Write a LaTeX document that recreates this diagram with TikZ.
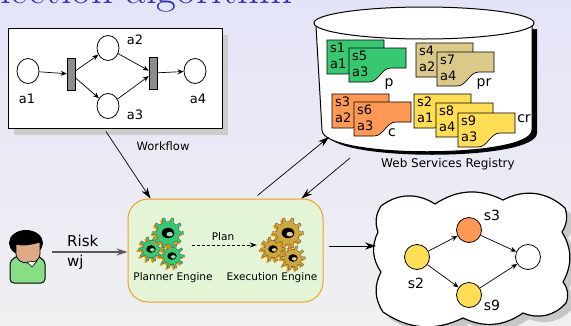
\documentclass[tikz,border=0pt]{standalone}
\usepackage{fontspec}
\newfontfamily\dejavu{DejaVu Sans}
\usetikzlibrary{arrows.meta,shapes.geometric,shadows,calc}

\definecolor{titleblue}{RGB}{51,51,178}
\definecolor{bgtop}{RGB}{228,228,248}
\definecolor{bgbottom}{RGB}{240,240,242}
\definecolor{docgreen}{RGB}{55,200,113}
\definecolor{doctan}{RGB}{219,201,138}
\definecolor{docorange}{RGB}{255,153,85}
\definecolor{docyellow}{RGB}{255,221,85}
\definecolor{enginefill}{RGB}{227,244,215}
\definecolor{engineedge}{RGB}{240,160,40}
\definecolor{gearshade}{RGB}{235,150,20}
\definecolor{geargold}{RGB}{205,168,60}
\definecolor{skin}{RGB}{222,170,135}
\definecolor{shirt}{RGB}{135,222,135}

\tikzset{
  place/.style={draw, ellipse, minimum width=22pt, minimum height=25pt, inner sep=0pt, line width=0.8pt, fill=white},
  trans/.style={draw, rectangle, fill=black!45, minimum width=8pt, minimum height=32pt, inner sep=0pt, line width=0.6pt},
  flow/.style={-{Stealth[length=6pt,width=5pt]}, line width=0.7pt},
  link/.style={-{Stealth[length=11pt,width=7pt]}, line width=0.7pt},
  svc/.style={draw, circle, minimum size=25pt, inner sep=0pt, line width=0.8pt},
  lbl/.style={font=\dejavu\fontsize{13}{15}\selectfont, inner sep=0pt},
  pics/gear/.style 2 args={code={
    \begin{scope}[shift={(-1.8,1.8)}]
      \fill[gearshade] (-8:#1) \foreach \t in {0,36,...,324}{ -- (\t-8:#1) -- (\t-5:#1+4) -- (\t+5:#1+4) -- (\t+8:#1) -- (\t+28:#1)} -- cycle;
    \end{scope}
    \filldraw[fill=#2, draw=black!70, line width=0.3pt] (-8:#1) \foreach \t in {0,36,...,324}{ -- (\t-8:#1) -- (\t-5:#1+4) -- (\t+5:#1+4) -- (\t+8:#1) -- (\t+28:#1)} -- cycle;
    \fill[black] (0,0) ellipse [x radius=0.55*#1, y radius=0.45*#1];
    \fill[#2!55!white] (0.15*#1,0.1*#1) ellipse [x radius=0.28*#1, y radius=0.2*#1];
  }},
  pics/svcdoc/.style n args={3}{code={
    \filldraw[fill=#1, draw=black, line width=0.7pt] (0,0) -- (57,0) -- (57,20) -- (42,20) .. controls (32,20) and (30,34) .. (20,34) -- (0,34) -- cycle;
    \node[anchor=north west, inner sep=0pt, align=left, font=\dejavu\fontsize{13}{16}\selectfont] at (3,3) {#2\\#3};
  }}
}

\begin{document}
\begin{tikzpicture}[x=1pt,y=-1pt]
\path[use as bounding box] (0,0) rectangle (571,325);
\clip (0,0) rectangle (571,325);
\shade[top color=bgtop, bottom color=bgbottom] (0,0) rectangle (571,325);
\node[anchor=base east, inner sep=0pt, text=titleblue, font=\fontsize{43}{46}\selectfont] (title) at (293,3) {Selection algorithm};

%Workflow
\node[draw, fill=white, line width=1pt, minimum width=214pt, minimum height=100pt, drop shadow={shadow xshift=6pt, shadow yshift=-7pt, fill=black!20, opacity=1}] (workflow) at (115,78) {};
\node[place] (a1p) at (28,71) {};
\node[place] (a2p) at (108,48) {};
\node[place] (a3p) at (108,106) {};
\node[place] (a4p) at (195,71) {};
\node[trans] (t1) at (71,74) {};
\node[trans] (t2) at (153,73) {};
\draw[flow] (a1p) -- (t1); \draw[flow] (t1) -- (a2p); \draw[flow] (t1) -- (a3p);
\draw[flow] (a2p) -- (t2); \draw[flow] (a3p) -- (t2); \draw[flow] (t2) -- (a4p);
\node[lbl] (a1l) at (27,99) {a1};
\node[lbl] (a2l) at (135,40) {a2};
\node[lbl] (a3l) at (135,115) {a3};
\node[lbl] (a4l) at (198,99) {a4};
\node[lbl, font=\dejavu\fontsize{11.5}{13}\selectfont] (wflabel) at (163,146) {Workflow};

%Registry
\begin{scope}[shift={(5,3)}]
\fill[black] (316,26) -- (322,130) .. controls (322,159) and (532,159) .. (532,130) -- (532,26) -- cycle;
\end{scope}
\draw[fill=white, line width=1pt] (316,26) -- (322,130) .. controls (322,159) and (532,159) .. (532,130) -- (532,26);
\draw[fill=white, line width=1pt] (424,23) ellipse [x radius=110, y radius=16];
\pic at (327,40) {svcdoc={docgreen}{s1}{a1}};
\pic at (349,48) {svcdoc={docgreen}{s5}{a3}};
\pic at (416,43) {svcdoc={doctan}{s4}{a2}};
\pic at (437,52) {svcdoc={doctan}{s7}{a4}};
\pic at (332,94) {svcdoc={docorange}{s3}{a2}};
\pic at (354,102) {svcdoc={docorange}{s6}{a3}};
\pic at (414,94) {svcdoc={docyellow}{s2}{a1}};
\pic at (436,103) {svcdoc={docyellow}{s8}{a4}};
\pic at (458,113) {svcdoc={docyellow}{s9}{a3}};
\node[lbl, font=\dejavu\fontsize{14}{16}\selectfont] (pl) at (389,84) {p};
\node[lbl, font=\dejavu\fontsize{14}{16}\selectfont] (prl) at (484,84) {pr};
\node[lbl, font=\dejavu\fontsize{14}{16}\selectfont] (cl) at (392,133) {c};
\node[lbl, font=\dejavu\fontsize{14}{16}\selectfont] (crl) at (524,119) {cr};
\node[lbl, font=\dejavu\fontsize{12}{14}\selectfont] (reglabel) at (448,164) {Web Services Registry};
\coordinate (regin) at (329,137);
\coordinate (regout) at (350,158);

%Engines
\node[draw=engineedge, fill=enginefill, line width=1pt, rounded corners=20pt, minimum width=195pt, minimum height=103pt] (engine) at (225.5,250.5) {};
\pic at (151,249) {gear={8.5}{docgreen}};
\pic at (172,256) {gear={8.5}{docgreen}};
\pic at (168,233) {gear={11.5}{docgreen}};
\pic at (273,249) {gear={8.5}{geargold}};
\pic at (293,258) {gear={8.5}{geargold}};
\pic at (288,233) {gear={11.5}{geargold}};
\node[minimum width=46pt, minimum height=46pt] (planner) at (164,245) {};
\node[minimum width=46pt, minimum height=46pt] (execution) at (282,245) {};
\node[lbl, font=\dejavu\fontsize{10.5}{12}\selectfont] (plannerl) at (173,278) {Planner Engine};
\node[lbl, font=\dejavu\fontsize{10.5}{12}\selectfont] (executionl) at (272,278) {Execution Engine};
\draw[-{Stealth[length=7pt,width=5pt]}, densely dashed, line width=0.7pt, shorten <=5pt, shorten >=2pt] (planner.east) -- (execution.west)
  node[midway, above=4pt, lbl, font=\dejavu\fontsize{10.5}{12}\selectfont] (planl) {Plan};

\draw[link] ([xshift=-9pt,yshift=-3pt]workflow.south) -- ([xshift=-75pt]engine.north);
\draw[link] ([xshift=32pt,yshift=3pt]engine.north) -- (regin);
\draw[link] (regout) -- ([xshift=76pt]engine.north);

%User
\draw[fill=shirt, line width=1pt, rounded corners=4pt] (10,283) -- (10,268) .. controls (10,259) and (18,255) .. (27,255) .. controls (37,255) and (45,259) .. (45,268) -- (45,283) -- cycle;
\fill[black] (26,243) ellipse [x radius=17, y radius=13];
\draw[fill=skin, line width=0.8pt] (16,244) .. controls (22,246) and (30,245) .. (40,242) -- (40,253) .. controls (40,260) and (35,263) .. (28,263) .. controls (21,263) and (16,260) .. (16,253) -- cycle;
\draw[fill=white, line width=0.6pt] (27,262) -- (37,261) -- (32,267) -- cycle;
\node[minimum width=48pt, minimum height=60pt] (user) at (28,252) {};
\draw[-{Stealth[length=11pt,width=7pt]}, draw=black!65, line width=1.5pt] (user.east) -- (user.east -| engine.west);
\node[lbl, anchor=west, font=\dejavu\fontsize{15}{17}\selectfont] (riskl) at (67,241) {Risk};
\node[lbl, anchor=west, font=\dejavu\fontsize{15}{17}\selectfont] (wjl) at (67,262) {wj};

%Plan result
\draw[fill=white, line width=1.2pt, drop shadow={shadow xshift=6pt, shadow yshift=-6pt, fill=black!22, opacity=1}]
  (381,206) to[bend left=35] (435,204) to[bend left=30] (503,200) to[bend left=35] (565,208) to[bend left=25] (562,232)
  to[bend left=30] (563,282) to[bend left=30] (566,303) to[bend left=35] (523,313) to[bend left=30] (463,318)
  to[bend left=30] (383,312) to[bend left=30] (381,272) to[bend left=30] (378,232) to[bend left=25] cycle;
\coordinate (cloudin) at (376,246);
\draw[link] ([xshift=5pt]engine.east |- cloudin) -- (cloudin);
\node[svc, fill=docyellow] (s2n) at (417,257) {};
\node[svc, fill=docorange] (s3n) at (469,230) {};
\node[svc, fill=docyellow] (s9n) at (469,295) {};
\node[svc, fill=white] (endn) at (528,257) {};
\draw[flow] (s2n) -- (s3n); \draw[flow] (s2n) -- (s9n);
\draw[flow] (s3n) -- (endn); \draw[flow] (s9n) -- (endn);
\node[lbl, font=\dejavu\fontsize{14}{16}\selectfont] (s3l) at (492,215) {s3};
\node[lbl, font=\dejavu\fontsize{14}{16}\selectfont] (s2l) at (416,283) {s2};
\node[lbl, font=\dejavu\fontsize{14}{16}\selectfont] (s9l) at (492,305) {s9};
\end{tikzpicture}
\end{document}
